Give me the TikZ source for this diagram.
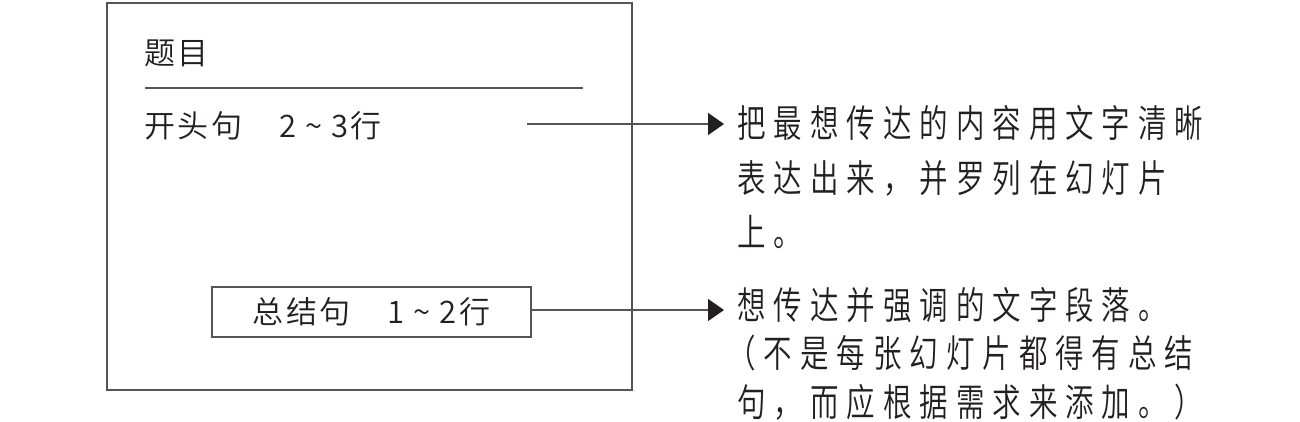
\documentclass[tikz,border=0pt]{standalone}
\usepackage{fontspec}
\newfontfamily\cjk{Noto Sans CJK SC DemiLight}[LetterSpace=8]
\newfontfamily\cjknar{Noto Sans CJK SC DemiLight}[FakeStretch=0.75,LetterSpace=21]
\usetikzlibrary{arrows.meta}
\definecolor{ink}{HTML}{231F20}
\definecolor{rule}{HTML}{555555}
\newcommand{\tld}{\hspace{9pt}\char"7E\hspace{9pt}}
\tikzset{
  lefttxt/.style={anchor=west,inner sep=0pt,text=ink,font=\cjk\fontsize{31}{31}\selectfont},
  righttxt/.style={anchor=west,inner sep=0pt,text=ink,font=\cjknar\fontsize{38}{38}\selectfont},
  frame/.style={draw=rule,line width=1.6pt},
  conn/.style={draw=rule,line width=1.4pt,-{Triangle[length=16pt,width=22pt,fill=ink,color=ink]}}
}
\begin{document}
\begin{tikzpicture}[x=1pt,y=-1pt]
\useasboundingbox (0,0) rectangle (1300,421);
\fill[white] (0,0) rectangle (1300,421);
% outer slide frame
\node[frame,anchor=north west,minimum width=525pt,minimum height=387pt,inner sep=0pt] (slide) at (106,2) {};
% title
\node[lefttxt] (title) at (144,53) {题目};
\coordinate (rulel) at (145,88);
\coordinate (ruler) at (583,88);
\draw[draw=rule,line width=1.3pt] (rulel) -- (ruler);
% opening sentence
\node[lefttxt] (open) at (144,126) {开头句\hspace{1.2em}2\tld 3行};
% summary box
\node[frame,minimum width=319pt,minimum height=50pt,inner sep=0pt,text=ink,font=\cjk\fontsize{31}{31}\selectfont] (sum) at (371.5,312) {总结句\hspace{1.2em}1\tld 2行};
% right texts
\node[righttxt] (a1) at (737,123) {把最想传达的内容用文字清晰};
\node[righttxt] (a2) at (737,178) {表达出来，并罗列在幻灯片};
\node[righttxt] (a3) at (737,232) {上。};
\node[righttxt] (b1) at (737,305) {想传达并强调的文字段落。};
\node[righttxt] (b2) at (727,353) {（不是每张幻灯片都得有总结};
\node[righttxt] (b3) at (737,402) {句，而应根据需求来添加。）};
% connectors
\coordinate (s1) at (527,124);
\coordinate (e1) at (724,124);
\draw[conn] (s1) -- (e1);
\coordinate (e2) at (724,310);
\draw[conn] (sum.east |- e2) -- (e2);
\end{tikzpicture}
\end{document}
